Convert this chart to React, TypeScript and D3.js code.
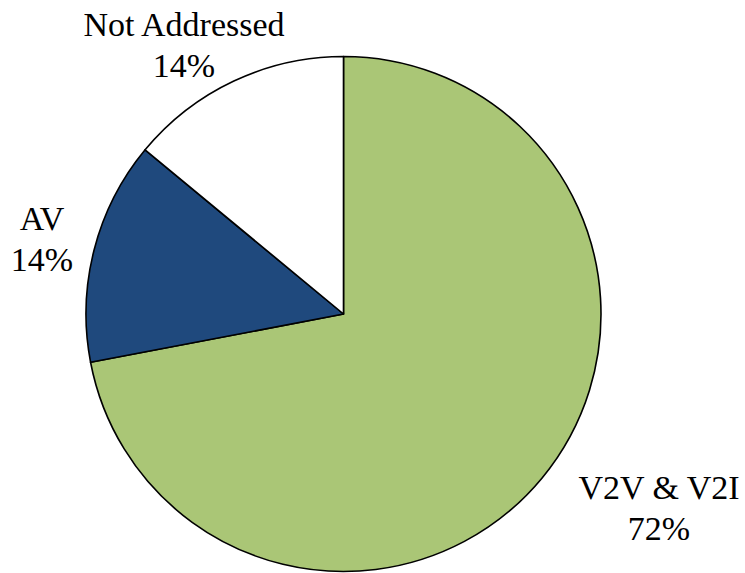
import React from "react";
import * as d3 from "d3";

const categories = ["V2V & V2I", "AV", "Not Addressed"];
const values = [72, 14, 14];
const colors = ["#AAC676", "#1F497D", "#FFFFFF"];
const labelLines = [
  ["V2V & V2I", "72%"],
  ["AV", "14%"],
  ["Not Addressed", "14%"],
];

const W = 745;
const H = 573;
const cx = 343.5;
const cy = 314;
const R = 257.5;

// label anchor positions (centre x, first baseline y)
const labelPos = [
  { x: 659, y: 499 },
  { x: 42, y: 230 },
  { x: 184, y: 36 },
];

export default function App() {
  const pie = d3.pie<number>().sort(null).value((d) => d);
  const arcs = pie(values);
  const arc = d3.arc<d3.PieArcDatum<number>>().innerRadius(0).outerRadius(R);
  return (
    <svg
      width={W}
      height={H}
      style={{ position: "absolute", left: 0, top: 0, background: "#fff" }}
    >
      <g transform={`translate(${cx},${cy})`}>
        {arcs.map((a, i) => (
          <path
            key={categories[i]}
            d={arc(a) || ""}
            fill={colors[i]}
            stroke="#000"
            strokeWidth={1.6}
            strokeLinejoin="round"
          />
        ))}
      </g>
      {labelLines.map((lines, i) => (
        <text
          key={i}
          textAnchor="middle"
          style={{ fontFamily: "Liberation Serif, Times New Roman, serif", fontSize: "34px" }}
          fill="#000"
        >
          {lines.map((l, j) => (
            <tspan key={j} x={labelPos[i].x} y={labelPos[i].y + j * 40.5}>
              {l}
            </tspan>
          ))}
        </text>
      ))}
    </svg>
  );
}
